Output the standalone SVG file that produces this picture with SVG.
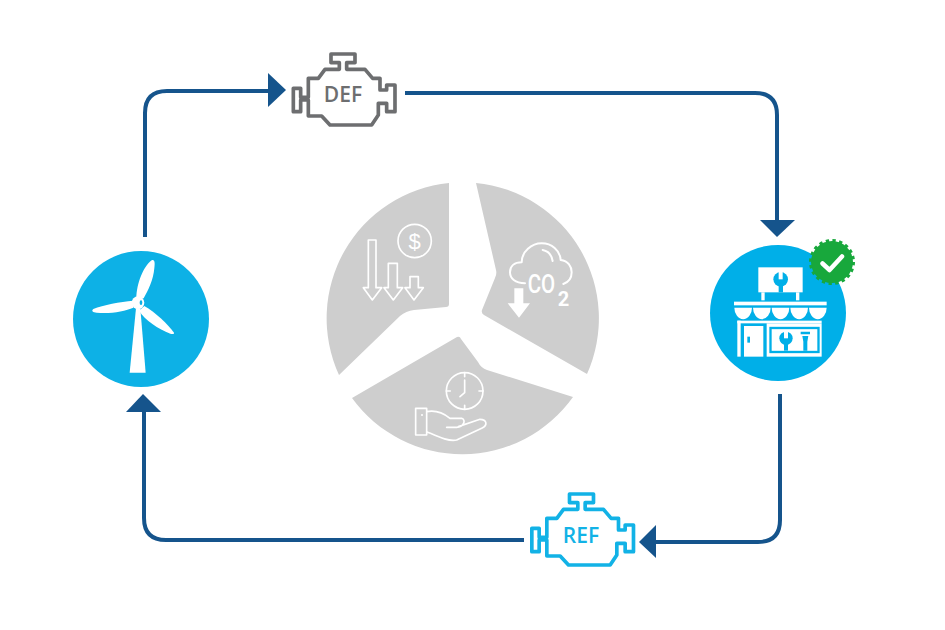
<svg xmlns="http://www.w3.org/2000/svg" width="945" height="630" viewBox="0 0 945 630">
<style>
.wire{fill:none;stroke:#15548c;stroke-width:4}
.head{fill:#15548c}
.sector{fill:#cecece}
.line{fill:none;stroke:#fff;stroke-width:1.7;stroke-linejoin:round;stroke-linecap:round}
.engine{fill:none;stroke-width:11;stroke-linejoin:round}
.lab{font-family:"Open Sans","Liberation Sans",sans-serif;font-weight:600;font-size:21px;text-anchor:middle}
.w{fill:#fff}
.b{fill:#00afe8}
</style>
<defs>
<path id="eng" d="M178 88V68H153V42H225V68H200V88H255L278 115H300V150H320V135H345V215H320V190H295V225L275 255H150L125 228H85V180H62V215H40V145H62V172H85V115H115L135 88Z"/>
</defs>
<g id="connectors">
<path class="wire" d="M145 237V113Q145 91 167 91H270"/>
<polygon class="head" points="268,73 286,90 268,107"/>
<path class="wire" d="M405 93H755Q777 93 777 115V222"/>
<polygon class="head" points="760,220 795,220 777,237"/>
<path class="wire" d="M780 394V520Q780 542 758 542H655"/>
<polygon class="head" points="656,525 639,542 656,558"/>
<path class="wire" d="M524 540H166Q144 540 144 518V410"/>
<polygon class="head" points="126,412 143,394 161,412"/>
</g>
<g id="sector-cost">
<path class="sector" d="M449 183V304Q449 307 446 307L414 310Q406 311 400 316L339 375A136 136 0 0 1 449 183Z"/>
<g transform="translate(320 175) scale(.3333)" class="line" style="stroke-width:5">
<circle cx="284" cy="198" r="50"/>
<path d="M145 295V338H130L157 375L185 338H168V195H145V295M205 338V265H232V338H248L220 375L192 338H205M270 338V305H295V338H310L282 375L255 338H270"/>
</g>
<text x="414.500" y="249" text-anchor="middle" font-family="Liberation Sans, sans-serif" font-size="22" fill="#fff">$</text>
</g>
<g id="sector-co2">
<path class="sector" d="M476 183A136 136 0 0 1 587 374L484 315Q481 313 482 310L495 278Q497 274 496 270Z"/>
<g transform="translate(470 175) scale(.3333)">
<path class="line" style="stroke-width:6" d="M165 325C135 325 120 310 120 292C120 272 135 262 155 262C155 230 185 205 215 205C245 205 270 225 272 255C295 258 305 275 305 292C305 310 295 322 280 327M218 225C235 228 245 240 248 258"/>
<polygon class="w" points="133,340 160,340 160,385 180,385 147,428 113,385 133,385"/>
</g>
<text transform="translate(541.500 293) scale(.82 1)" text-anchor="middle" font-family="Roboto, sans-serif" font-size="25" font-weight="500" fill="#fff">CO</text>
<text x="563.500" y="306" text-anchor="middle" font-family="Roboto, sans-serif" font-size="20" font-weight="700" fill="#fff">2</text>
</g>
<g id="sector-time">
<path class="sector" d="M352 398L457 337Q460 336 461 339L478 362Q481 368 487 370L573 397A136 136 0 0 1 352 398Z"/>
<g transform="translate(345 330) scale(.3333)" class="line" style="stroke-width:5">
<circle cx="359" cy="183" r="55"/>
<path d="M359 128V140M359 226V238M304 183H316M402 183H414M359 150V188L345 200"/>
<path d="M212 235H245V315H212ZM245 245C270 240 290 245 315 265L350 265C365 270 355 292 335 292H305M340 290L405 268C425 268 430 285 410 295L335 330C310 335 280 320 245 305"/>
</g>
<circle cx="422" cy="415" r="1" fill="#fff"/>
</g>
<g id="node-def">
<use href="#eng" class="engine" stroke="#6d6e70" transform="translate(280 40) scale(.3333)"/>
<text class="lab" x="343" y="102" fill="#6d6e70">DEF</text>
</g>
<g id="node-ref">
<use href="#eng" class="engine" stroke="#12b2e6" transform="translate(518.500 480) scale(.3333)"/>
<text class="lab" x="581" y="543" fill="#12b2e6">REF</text>
</g>
<g id="node-turbine">
<circle cx="141" cy="319" r="68" fill="#0db1e6"/>
<g transform="translate(65 245) scale(.3333)">
<path class="w" d="M213 190H226L242 383H194Z"/>
<path class="w" d="M214 160C215 115 235 65 260 46C270 42 270 55 268 70C265 105 250 135 236 160Z"/>
<path class="w" d="M205 167C165 170 115 180 85 192C78 198 84 202 95 203C135 208 180 198 205 188Z"/>
<path class="w" d="M238 183C270 200 310 240 327 263C328 268 322 268 316 266C280 252 240 225 222 197Z"/>
<circle class="w" cx="219" cy="173" r="19"/>
<ellipse cx="228" cy="173" rx="4" ry="7" fill="#0db1e6"/>
</g>
</g>
<g id="node-shop">
<circle cx="778" cy="313" r="68" fill="#00afe8"/>
<g transform="translate(730 260) scale(.3333)">
<rect class="w" x="85" y="22" width="133" height="75"/>
<circle class="b" cx="152" cy="58" r="22"/>
<rect class="w" x="146" y="34" width="12" height="24"/>
<rect class="b" x="146" y="70" width="13" height="27"/>
<rect class="w" x="94" y="97" width="10" height="24"/>
<rect class="w" x="198" y="97" width="10" height="24"/>
<rect class="w" x="12" y="125" width="278" height="11"/>
<path class="w" d="M13 143H66A26 34 0 0 1 13 143ZM69 143H122A26 34 0 0 1 69 143ZM125 143H178A26 34 0 0 1 125 143ZM181 143H234A26 34 0 0 1 181 143ZM237 143H290A26 34 0 0 1 237 143Z"/>
<rect class="w" x="22" y="182" width="253" height="8"/>
<rect class="w" x="22" y="182" width="10" height="108"/>
<rect class="w" x="42" y="198" width="58" height="92"/>
<rect class="b" x="52" y="230" width="8" height="18"/>
<rect class="w" x="110" y="190" width="165" height="100"/>
<rect x="121.500" y="204" width="144" height="72" fill="#fff" stroke="#00afe8" stroke-width="7"/>
<circle class="b" cx="168" cy="235" r="20"/>
<rect class="w" x="162" y="213" width="12" height="22"/>
<rect class="b" x="162" y="250" width="12" height="22"/>
<path class="b" d="M212 215H240V223H212ZM217 228H235L232 245V272H220V245Z"/>
</g>
<g id="badge">
<circle cx="832" cy="262" r="21" fill="#18a83c"/>
<circle cx="832" cy="262" r="21.500" fill="none" stroke="#18a83c" stroke-width="3" stroke-dasharray="3.370 3.370"/>
<path d="M822.500 263.500L829.500 270L842 256.500" fill="none" stroke="#fff" stroke-width="4.500" stroke-linecap="round" stroke-linejoin="round"/>
</g>
</g>
</svg>
